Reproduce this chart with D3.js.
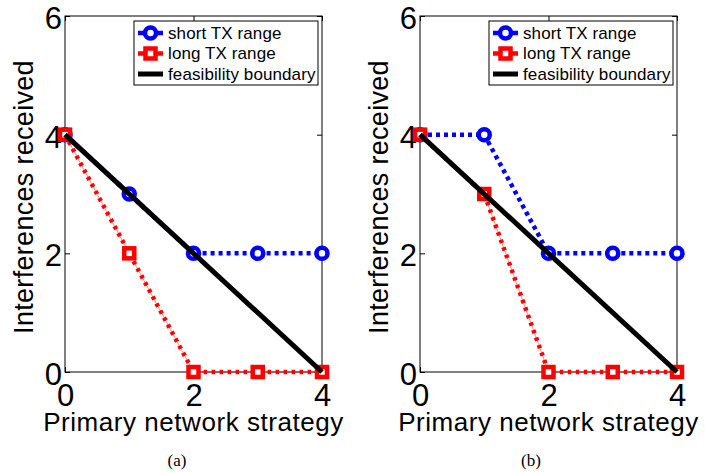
<!DOCTYPE html>
<html>
<head>
<meta charset="utf-8">
<script src="https://cdn.jsdelivr.net/npm/d3@7"></script>
<style>
  body { margin: 0; background: #fff; }
  svg { display: block; }
</style>
</head>
<body>
<svg id="chart" width="717" height="473"></svg>
<script>
// strategy values on the x axis
const strategies = [0, 1, 2, 3, 4];

// panel (a)
const shortA = [4, 3, 2, 2, 2];
const longA = [4, 2, 0, 0, 0];
// panel (b)
const shortB = [4, 4, 2, 2, 2];
const longB = [4, 3, 0, 0, 0];

// feasibility boundary, same in both panels
const boundaryX = [0, 4];
const boundaryY = [4, 0];

const xTicks = [0, 2, 4];
const yTicks = [0, 2, 4, 6];
const legendLabels = ['short TX range', 'long TX range', 'feasibility boundary'];

const plotW = 257;
const plotH = 356;
const sans = 'Arial, "Liberation Sans", Helvetica, sans-serif';

const svg = d3.select('#chart');

function marker(g, kind, cx, cy) {
	if (kind === 'circle') {
		g.append('circle')
			.attr('cx', cx).attr('cy', cy).attr('r', 5.5)
			.attr('fill', 'white').attr('stroke', '#0000ff').attr('stroke-width', 4.5);
	} else {
		g.append('rect')
			.attr('x', cx - 5).attr('y', cy - 5).attr('width', 10).attr('height', 10)
			.attr('fill', 'white').attr('stroke', '#ff0000').attr('stroke-width', 4.5);
	}
}

function drawPanel(left, top, shortVals, longVals, caption, captionX, legendX) {
	const g = svg.append('g').attr('transform', 'translate(' + left + ',' + top + ')');

	const x = d3.scaleLinear().domain([0, 4]).range([0, plotW]);
	const y = d3.scaleLinear().domain([0, 6]).range([plotH, 0]);

	// frame
	g.append('rect')
		.attr('width', plotW).attr('height', plotH)
		.attr('fill', 'none').attr('stroke', 'black').attr('stroke-width', 1);

	// axes, ticks point inward like matlab
	const xAxis = g.append('g')
		.attr('transform', 'translate(0,' + plotH + ')')
		.call(d3.axisBottom(x).tickValues(xTicks).tickSizeInner(-5).tickSizeOuter(0).tickPadding(12).tickFormat(d3.format('d')));
	const yAxis = g.append('g')
		.call(d3.axisLeft(y).tickValues(yTicks).tickSizeInner(-5).tickSizeOuter(0).tickPadding(3).tickFormat(d3.format('d')));
	g.append('g')
		.call(d3.axisTop(x).tickValues(xTicks).tickSizeInner(-5).tickSizeOuter(0).tickFormat(''));
	g.append('g')
		.attr('transform', 'translate(' + plotW + ',0)')
		.call(d3.axisRight(y).tickValues(yTicks).tickSizeInner(-5).tickSizeOuter(0).tickFormat(''));

	g.selectAll('.domain').remove();
	g.selectAll('.tick line').attr('stroke', 'black');
	[xAxis, yAxis].forEach((a) => {
		a.selectAll('text')
			.attr('fill', 'black')
			.style('font-family', sans)
			.style('font-size', '31px');
	});
	yAxis.selectAll('text').attr('dy', '0.4em');

	const line = d3.line()
		.x((d, i) => x(strategies[i]))
		.y((d) => y(d));

	// short TX range
	g.append('path')
		.datum(shortVals)
		.attr('d', line)
		.attr('fill', 'none').attr('stroke', '#0000ff').attr('stroke-width', 4.5)
		.attr('stroke-dasharray', '4,4');
	shortVals.forEach((v, i) => marker(g, 'circle', x(strategies[i]), y(v)));

	// long TX range: dash-dot that shows as dots and faint thin dashes
	g.append('path')
		.datum(longVals)
		.attr('d', line)
		.attr('fill', 'none').attr('stroke', '#ff0000').attr('stroke-width', 1)
		.attr('stroke-opacity', 0.45);
	g.append('path')
		.datum(longVals)
		.attr('d', line)
		.attr('fill', 'none').attr('stroke', '#ff0000').attr('stroke-width', 4.5)
		.attr('stroke-dasharray', '3.5,4.5');
	longVals.forEach((v, i) => marker(g, 'square', x(strategies[i]), y(v)));

	// feasibility boundary
	g.append('line')
		.attr('x1', x(boundaryX[0])).attr('y1', y(boundaryY[0]))
		.attr('x2', x(boundaryX[1])).attr('y2', y(boundaryY[1]))
		.attr('stroke', 'black').attr('stroke-width', 5);

	// axis labels
	g.append('text')
		.attr('x', plotW / 2).attr('y', plotH + 59)
		.attr('text-anchor', 'middle')
		.style('font-family', sans).style('font-size', '26px').style('letter-spacing', '0.55px')
		.text('Primary network strategy');
	g.append('text')
		.attr('transform', 'translate(' + (-32) + ',' + (plotH / 2 + 3) + ') rotate(-90)')
		.attr('text-anchor', 'middle')
		.style('font-family', sans).style('font-size', '27px').style('letter-spacing', '0.3px')
		.text('Interferences received');

	// legend
	const lg = g.append('g').attr('transform', 'translate(' + legendX + ',5)');
	lg.append('rect')
		.attr('width', 184).attr('height', 64)
		.attr('fill', 'white').attr('stroke', 'black').attr('stroke-width', 1);
	const rows = [
		{ color: '#0000ff', kind: 'circle' },
		{ color: '#ff0000', kind: 'square' },
		{ color: 'black', kind: null }
	];
	rows.forEach((r, i) => {
		const cy = 12 + i * 20.5;
		lg.append('line')
			.attr('x1', 4).attr('x2', 29).attr('y1', cy).attr('y2', cy)
			.attr('stroke', r.color).attr('stroke-width', r.kind ? 4.5 : 5);
		if (r.kind) marker(lg, r.kind, 16.5, cy);
		lg.append('text')
			.attr('x', 34).attr('y', cy).attr('dy', '0.35em')
			.style('font-family', sans).style('font-size', '17px').style('letter-spacing', '0.1px')
			.text(legendLabels[i]);
	});

	// caption
	svg.append('text')
		.attr('x', captionX).attr('y', 466)
		.attr('text-anchor', 'middle')
		.style('font-family', '"Liberation Serif", "Times New Roman", serif').style('font-size', '17px')
		.text(caption);
}

drawPanel(65, 16, shortA, longA, '(a)', 177, 69);
drawPanel(420, 16, shortB, longB, '(b)', 531, 69);
</script>
</body>
</html>
